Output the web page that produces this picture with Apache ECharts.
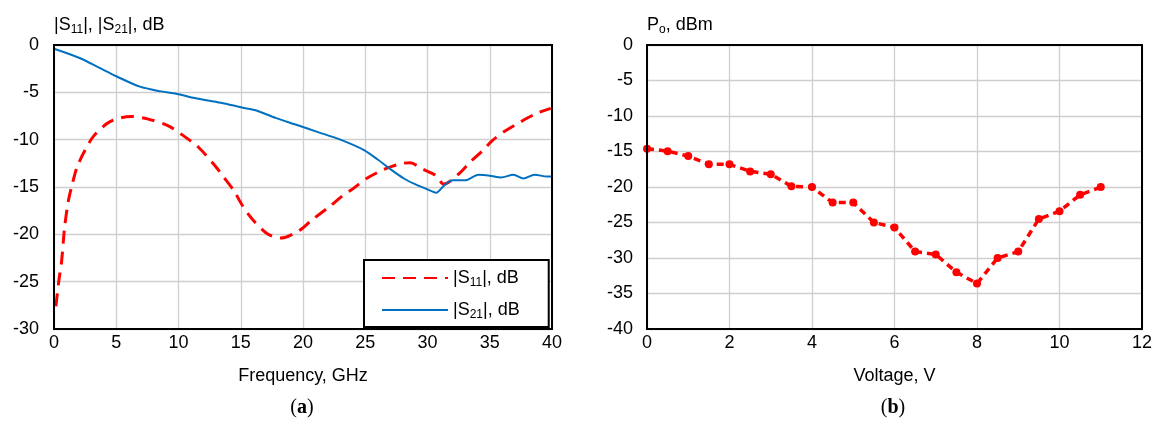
<!DOCTYPE html>
<html lang="en">
<head>
  <meta charset="UTF-8">
  <title>S-parameters and output power</title>
  <script src="https://cdn.jsdelivr.net/npm/echarts@6.0.0/dist/echarts.min.js"></script>
  <style>
    html, body { margin: 0; padding: 0; background: #fff; }
    #chart { width: 1156px; height: 425px; }
  </style>
</head>
<body>
<div id="chart"></div>
<script>
  // (a) |S11|, |S21| vs frequency
  var freqS11 = [0.15, 0.4, 0.6, 0.85, 1.15, 1.45, 1.85, 2.5, 3.2, 4.5, 6.2, 7.5, 9.1, 10.2, 11.6, 12.9, 13.6, 14.4, 15.2, 16.0, 17.1, 18.2, 19.7, 20.7, 22.1, 23.2, 24.0, 25.1, 26.4, 27.2, 28.0, 28.6, 29.6, 30.7, 31.3, 32.6, 33.4, 34.4, 35.2, 36.1, 37.5, 38.8, 39.9];
  var s11 = [-27.6, -24.8, -23.0, -19.3, -16.5, -14.8, -12.9, -11.1, -9.6, -8.1, -7.55, -7.8, -8.5, -9.4, -10.8, -12.7, -13.9, -15.3, -17.1, -18.5, -19.9, -20.4, -19.6, -18.5, -17.1, -15.9, -15.2, -14.1, -13.2, -12.8, -12.5, -12.45, -13.1, -13.8, -14.7, -13.5, -12.4, -11.2, -10.1, -9.2, -8.1, -7.2, -6.7];
  var freqS21 = [0, 2.1, 3.7, 5, 6.9, 8.6, 10, 11.3, 13.4, 15.1, 16.2, 17.8, 19.4, 21.2, 23, 24.9, 26.0, 27.0, 28.1, 29.0, 29.9, 30.7, 31.3, 32.0, 33.0, 34.1, 35.0, 35.9, 36.9, 37.7, 38.6, 39.6, 40];
  var s21 = [-0.4, -1.4, -2.45, -3.3, -4.4, -4.9, -5.2, -5.6, -6.1, -6.6, -6.9, -7.7, -8.4, -9.2, -10.0, -11.1, -12.1, -13.1, -14.1, -14.7, -15.2, -15.6, -14.9, -14.3, -14.3, -13.7, -13.8, -14.0, -13.7, -14.1, -13.7, -13.9, -13.9];

  // (b) Po vs voltage
  var voltage = [0, 0.5, 1, 1.5, 2, 2.5, 3, 3.5, 4, 4.5, 5, 5.5, 6, 6.5, 7, 7.5, 8, 8.5, 9, 9.5, 10, 10.5, 11];
  var po = [-14.6, -14.95, -15.65, -16.8, -16.8, -17.8, -18.2, -19.9, -20.0, -22.2, -22.2, -25.0, -25.7, -29.1, -29.5, -32.0, -33.6, -30.0, -29.1, -24.5, -23.4, -21.1, -20.0];

  function pairs(xs, ys) {
    return xs.map(function (x, i) { return [x, ys[i]]; });
  }

  var font = 'Liberation Sans, Arial, sans-serif';
  var sub = { fontSize: 12, fontFamily: font, color: '#000', verticalAlign: 'bottom', lineHeight: 22 };

  var chart = echarts.init(document.getElementById('chart'));

  var axisCommon = {
    type: 'value',
    axisLine: { show: false },
    axisTick: { show: false },
    splitLine: { lineStyle: { color: '#cfcfcf', width: 1.3 } },
    axisLabel: { color: '#000', fontSize: 18, fontFamily: font }
  };

  chart.setOption({
    animation: false,
    textStyle: { fontFamily: font },
    grid: [
      { left: 54, right: 604, top: 45, bottom: 96, show: true, borderColor: '#000', borderWidth: 2, z: 5 },
      { left: 647, right: 14, top: 45, bottom: 96, show: true, borderColor: '#000', borderWidth: 2, z: 5 }
    ],
    xAxis: [
      Object.assign({}, axisCommon, {
        gridIndex: 0, min: 0, max: 40, interval: 5,
        axisLabel: { color: '#000', fontSize: 18, fontFamily: font, margin: 5 },
        name: 'Frequency, GHz', nameLocation: 'middle', nameGap: 38,
        nameTextStyle: { color: '#000', fontSize: 18, fontFamily: font }
      }),
      Object.assign({}, axisCommon, {
        gridIndex: 1, min: 0, max: 12, interval: 2,
        axisLabel: { color: '#000', fontSize: 18, fontFamily: font, margin: 5 },
        name: 'Voltage, V', nameLocation: 'middle', nameGap: 38,
        nameTextStyle: { color: '#000', fontSize: 18, fontFamily: font }
      })
    ],
    yAxis: [
      Object.assign({}, axisCommon, {
        gridIndex: 0, min: -30, max: 0, interval: 5,
        axisLabel: { color: '#000', fontSize: 18, fontFamily: font, margin: 15 },
        name: '|S{s|11}|, |S{s|21}|, dB', nameLocation: 'end', nameGap: 9,
        nameTextStyle: { color: '#000', fontSize: 18, fontFamily: font, align: 'left', lineHeight: 22, rich: { s: sub } }
      }),
      Object.assign({}, axisCommon, {
        gridIndex: 1, min: -40, max: 0, interval: 5,
        axisLabel: { color: '#000', fontSize: 18, fontFamily: font, margin: 14 },
        name: 'P{s|o}, dBm', nameLocation: 'end', nameGap: 9,
        nameTextStyle: { color: '#000', fontSize: 18, fontFamily: font, align: 'left', lineHeight: 22, rich: { s: sub } }
      })
    ],
    legend: {
      data: ['S11', 'S21'],
      orient: 'vertical',
      left: 364, top: 260,
      padding: [7, 29, 6, 17],
      itemWidth: 66, itemHeight: 18, itemGap: 10,
      borderColor: '#000', borderWidth: 2, backgroundColor: '#fff',
      itemStyle: { opacity: 0 },
      z: 10,
      formatter: function (name) {
        return name === 'S11' ? '|S{s|11}|, dB' : '|S{s|21}|, dB';
      },
      textStyle: { color: '#000', fontSize: 18, fontFamily: font, lineHeight: 22, rich: { s: sub } }
    },
    graphic: [
      { type: 'text', style: { text: '({b|a})', x: 302, y: 408, align: 'center', verticalAlign: 'middle', font: '20px Liberation Serif', fill: '#000', rich: { b: { fontWeight: 'bold', fontSize: 20, fontFamily: 'Liberation Serif' } } } },
      { type: 'text', style: { text: '({b|b})', x: 893, y: 408, align: 'center', verticalAlign: 'middle', font: '20px Liberation Serif', fill: '#000', rich: { b: { fontWeight: 'bold', fontSize: 20, fontFamily: 'Liberation Serif' } } } }
    ],
    series: [
      {
        name: 'S11', type: 'line', xAxisIndex: 0, yAxisIndex: 0,
        data: pairs(freqS11, s11), smooth: 0.3, symbol: 'none',
        lineStyle: { color: '#ff0000', width: 3, type: [13, 8] },
        itemStyle: { color: '#ff0000' }
      },
      {
        name: 'S21', type: 'line', xAxisIndex: 0, yAxisIndex: 0,
        data: pairs(freqS21, s21), smooth: 0.3, symbol: 'none',
        lineStyle: { color: '#0070c0', width: 2 },
        itemStyle: { color: '#0070c0' }
      },
      {
        name: 'Po', type: 'line', xAxisIndex: 1, yAxisIndex: 1,
        data: pairs(voltage, po), symbol: 'circle', symbolSize: 8,
        lineStyle: { color: '#ff0000', width: 3.5, type: [7, 5] },
        itemStyle: { color: '#ff0000' }
      }
    ]
  });
</script>
</body>
</html>
